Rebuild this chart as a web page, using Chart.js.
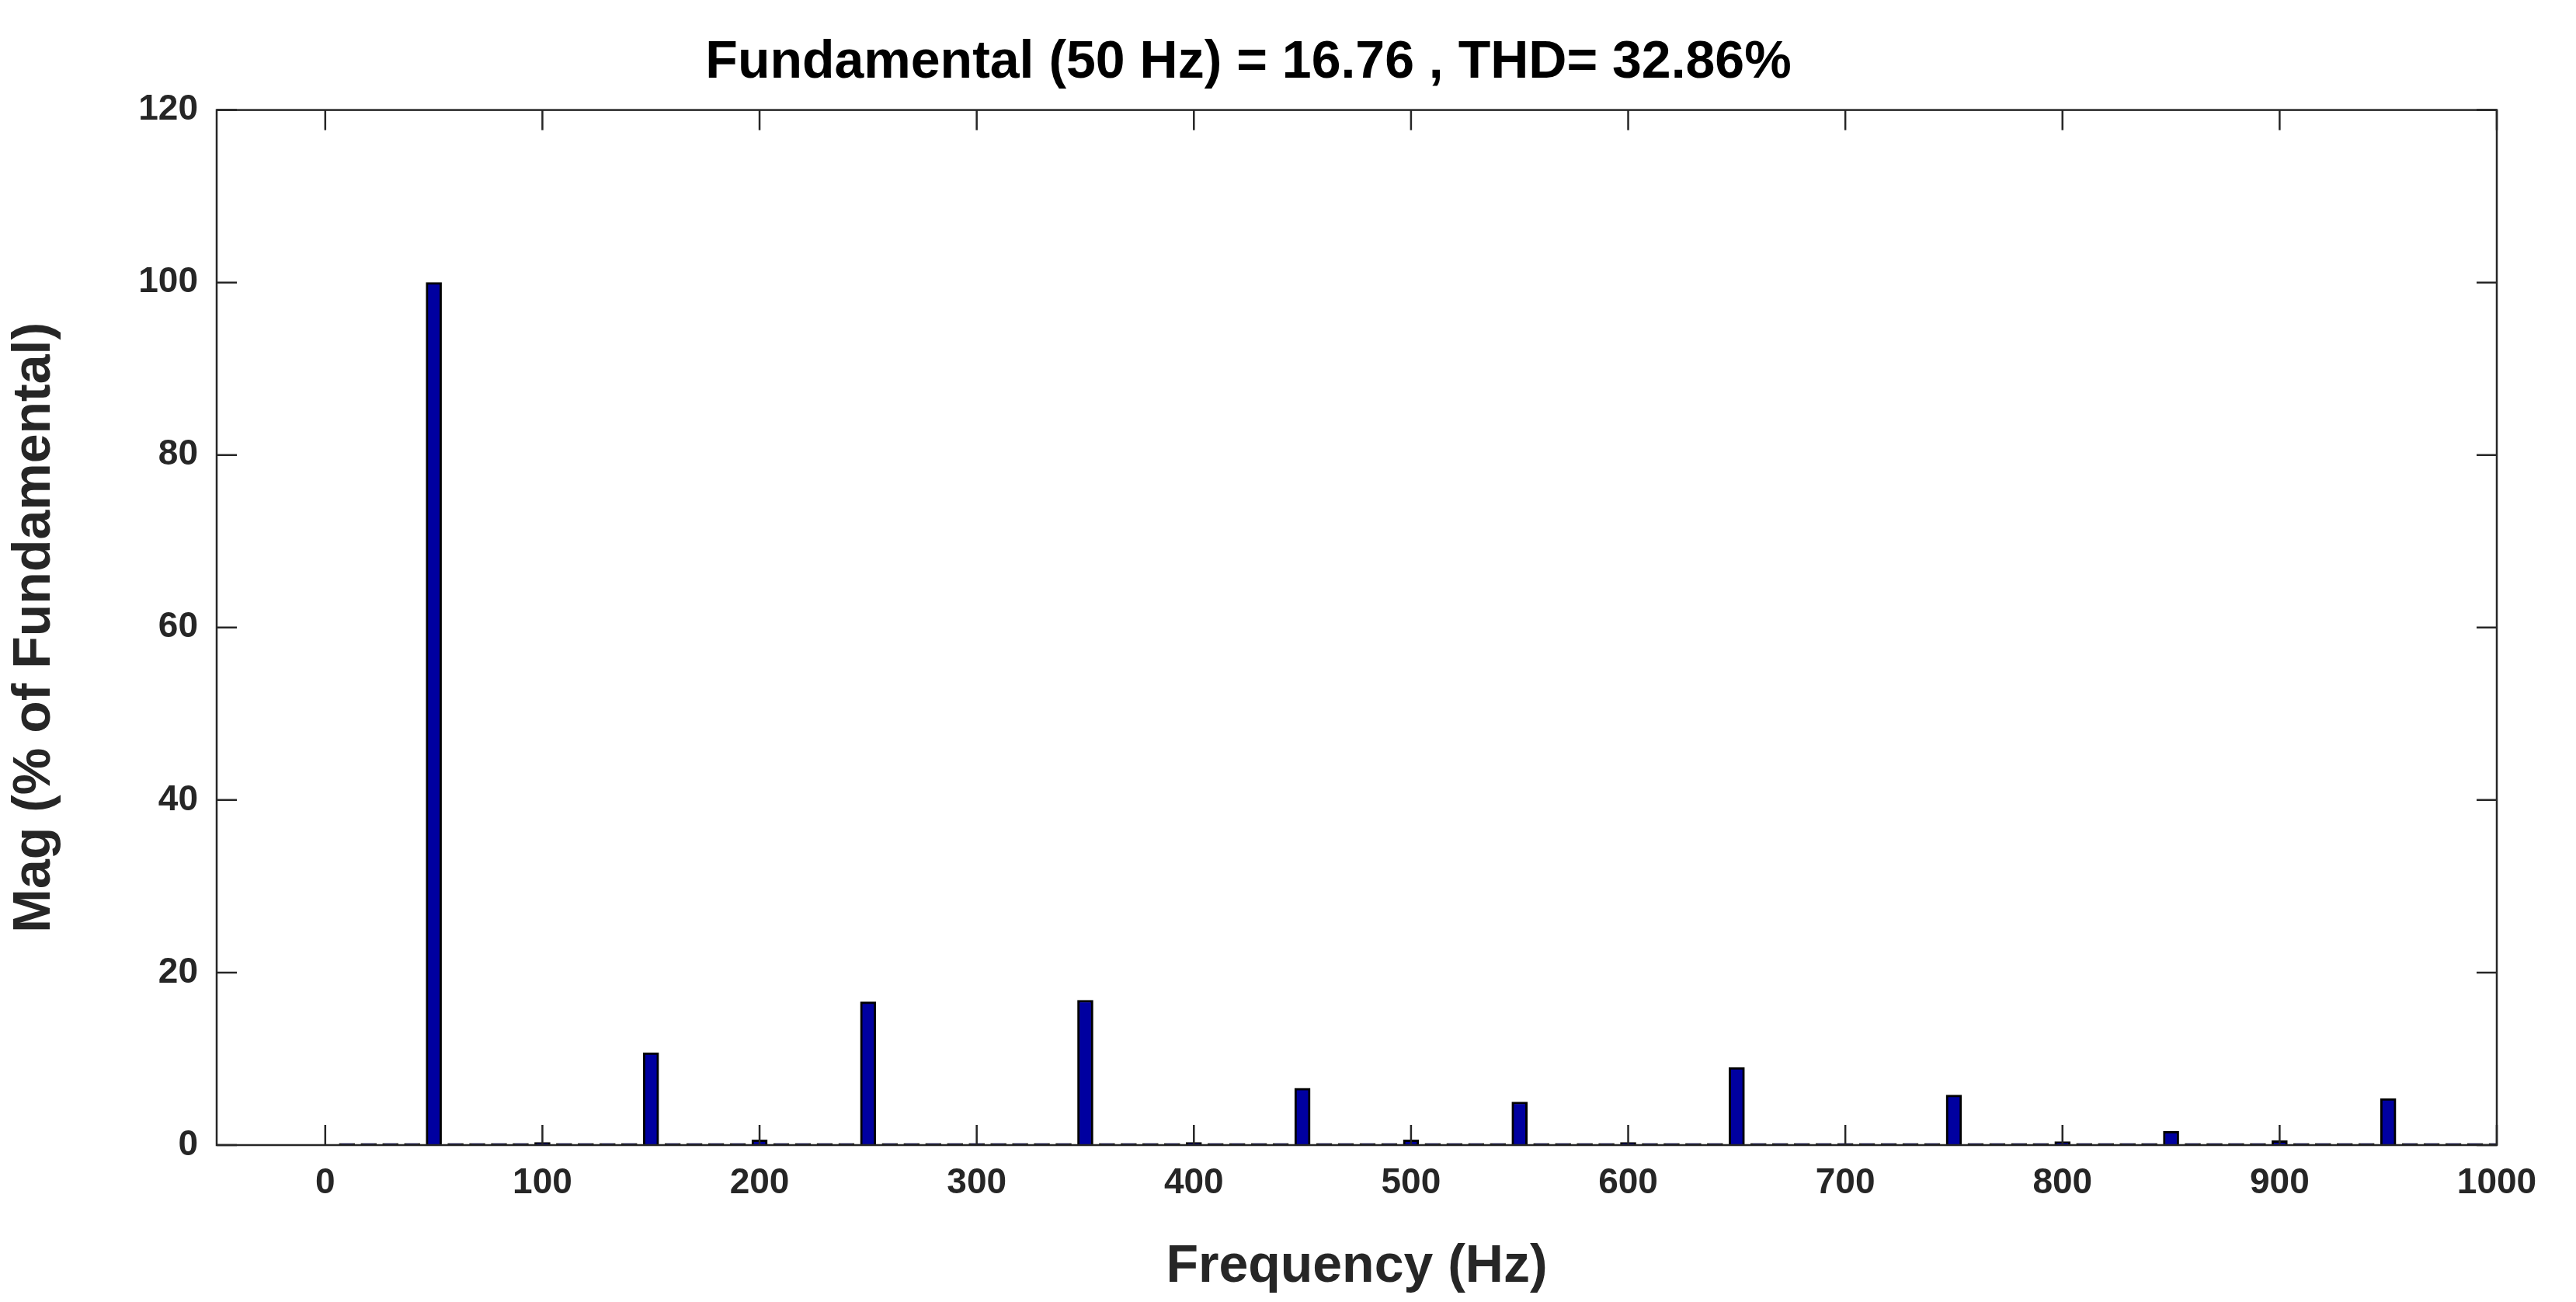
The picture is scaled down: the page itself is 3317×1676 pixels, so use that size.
<!DOCTYPE html>
<html>
<head>
<meta charset="utf-8">
<script src="https://cdn.jsdelivr.net/npm/chart.js@4/dist/chart.umd.min.js"></script>
<style>
  html, body { margin: 0; padding: 0; background: #fff; }
  #wrap { width: 3317px; height: 1676px; }
</style>
</head>
<body>
<div id="wrap"><canvas id="fft"></canvas></div>
<script>
// harmonic spectrum, % of fundamental
const harmonicFreqs = [50, 100, 150, 200, 250, 300, 350, 400, 450, 500, 550, 600, 650, 700, 750, 800, 850, 900, 950, 1000];
const harmonicMags  = [100, 0.3, 10.7, 0.6, 16.6, 0.2, 16.8, 0.3, 6.6, 0.6, 5.0, 0.3, 9.0, 0.2, 5.8, 0.4, 1.6, 0.5, 5.4, 0.2];
// interharmonic bins (10 Hz steps) sit near zero
const binStep = 10;
const binFloor = 0.2;
const xTicks = [0, 100, 200, 300, 400, 500, 600, 700, 800, 900, 1000];
const yTicks = [0, 20, 40, 60, 80, 100, 120];

const points = [];
for (let f = 10; f <= 1000; f += binStep) {
    const i = harmonicFreqs.indexOf(f);
    points.push({ x: f, y: i >= 0 ? harmonicMags[i] : binFloor });
}

const font = 'Liberation Sans, Arial, sans-serif';

// MATLAB-like box with inward ticks
const boxTicks = {
    id: 'boxTicks',
    afterDraw(chart) {
        const { ctx, chartArea: a, scales } = chart;
        ctx.save();
        ctx.strokeStyle = '#262626';
        ctx.lineWidth = 2.5;
        ctx.strokeRect(a.left, a.top, a.right - a.left, a.bottom - a.top);
        const len = 26;
        ctx.beginPath();
        xTicks.forEach(v => {
            const px = scales.x.getPixelForValue(v);
            ctx.moveTo(px, a.bottom); ctx.lineTo(px, a.bottom - len);
            ctx.moveTo(px, a.top); ctx.lineTo(px, a.top + len);
        });
        yTicks.forEach(v => {
            const py = scales.y.getPixelForValue(v);
            ctx.moveTo(a.left, py); ctx.lineTo(a.left + len, py);
            ctx.moveTo(a.right, py); ctx.lineTo(a.right - len, py);
        });
        ctx.stroke();
        ctx.restore();
    }
};

new Chart(document.getElementById('fft'), {
    type: 'bar',
    data: {
        datasets: [{
            data: points,
            backgroundColor: '#0000a0',
            borderColor: '#000000',
            borderWidth: 3,
            barThickness: 20
        }]
    },
    options: {
        responsive: true,
        maintainAspectRatio: false,
        animation: false,
        devicePixelRatio: 1,
        layout: { padding: { top: 0, right: 102, left: 0, bottom: 0 } },
        plugins: {
            legend: { display: false },
            tooltip: { enabled: false },
            title: {
                display: true,
                text: 'Fundamental (50 Hz) = 16.76 , THD= 32.86%',
                color: '#000',
                font: { family: font, size: 68, weight: 'bold' },
                padding: { top: 40, bottom: 20 }
            }
        },
        scales: {
            x: {
                type: 'linear',
                offset: false,
                min: -50,
                max: 1000,
                afterBuildTicks: s => { s.ticks = xTicks.map(v => ({ value: v })); },
                afterFit: s => { s.height = 202; },
                grid: { display: false, offset: false },
                border: { display: false },
                ticks: {
                    color: '#262626',
                    padding: 14,
                    maxRotation: 0,
                    callback: v => String(v),
                    font: { family: font, size: 46, weight: 'bold' }
                },
                title: {
                    display: true,
                    text: 'Frequency (Hz)',
                    color: '#262626',
                    padding: { top: 4 },
                    font: { family: font, size: 68, weight: 'bold' }
                }
            },
            y: {
                min: 0,
                max: 120,
                afterBuildTicks: s => { s.ticks = yTicks.map(v => ({ value: v })); },
                afterFit: s => { s.width = 279; },
                grid: { display: false },
                border: { display: false },
                ticks: {
                    color: '#262626',
                    padding: 16,
                    font: { family: font, size: 46, weight: 'bold' }
                },
                title: {
                    display: true,
                    text: 'Mag (% of Fundamental)',
                    color: '#262626',
                    padding: { bottom: 22 },
                    font: { family: font, size: 68, weight: 'bold' }
                }
            }
        }
    },
    plugins: [boxTicks]
});
</script>
</body>
</html>
